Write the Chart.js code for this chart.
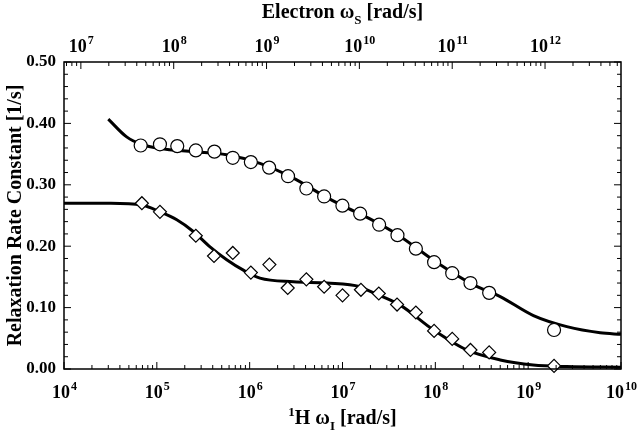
<!DOCTYPE html>
<head>
  <meta charset="UTF-8">
  <title>Relaxation Rate Constant</title>
  <script src="https://cdn.jsdelivr.net/npm/chart.js"></script>
  <style>
    body { margin: 0; background: #fff; }
  </style>
</head>
<body>
    <canvas id="relaxChart" width="640" height="438"></canvas>
    <script>
        // measured points (1H frequency in rad/s)
        var circleW = [6.7e4, 1.08e5, 1.66e5, 2.63e5, 4.17e5, 6.58e5, 1.03e6, 1.62e6, 2.59e6, 4.08e6, 6.34e6,
                       9.98e6, 1.55e7, 2.48e7, 3.91e7, 6.17e7, 9.7e7, 1.52e8, 2.39e8, 3.8e8, 1.9e9];
        var circleR = [0.364, 0.366, 0.363, 0.356, 0.354, 0.344, 0.337, 0.328, 0.314, 0.294, 0.281,
                       0.266, 0.253, 0.235, 0.218, 0.196, 0.174, 0.156, 0.140, 0.124, 0.0635];
        var diamondW = [6.9e4, 1.08e5, 2.63e5, 4.13e5, 6.58e5, 1.03e6, 1.63e6, 2.57e6, 4.08e6, 6.34e6,
                        1e7, 1.58e7, 2.46e7, 3.87e7, 6.17e7, 9.7e7, 1.52e8, 2.39e8, 3.8e8, 1.9e9];
        var diamondR = [0.270, 0.256, 0.217, 0.184, 0.189, 0.157, 0.170, 0.132, 0.146, 0.134,
                        0.120, 0.129, 0.123, 0.105, 0.092, 0.062, 0.049, 0.031, 0.027, 0.005];
        // fitted curves
        var fitUpperW = [3.0e4, 4.73e4, 6.8e4, 1.08e5, 2.47e5, 5.66e5, 1.29e6, 2.96e6, 6.3e6, 1e7,
                         2e7, 4e7, 1e8, 2.5e8, 5e8, 1.14e9, 2.61e9, 5.97e9, 1e10];
        var fitUpperR = [0.407, 0.378, 0.366, 0.359, 0.354, 0.349, 0.335, 0.311, 0.282, 0.266,
                         0.244, 0.218, 0.175, 0.138, 0.118, 0.087, 0.069, 0.059, 0.0565];
        var fitLowerW = [1e4, 3.2e4, 6.9e4, 1.08e5, 1.64e5, 2.47e5, 3.74e5, 5.66e5, 8.55e5, 1.29e6, 2.96e6,
                         6.8e6, 1.55e7, 1.83e7, 2.5e7, 4.18e7, 9.55e7, 2.18e8, 5e8, 1.13e9, 2.61e9, 1e10];
        var fitLowerR = [0.270, 0.270, 0.267, 0.256, 0.243, 0.224, 0.199, 0.178, 0.161, 0.148, 0.142,
                         0.140, 0.134, 0.129, 0.120, 0.104, 0.0635, 0.031, 0.0147, 0.0065, 0.004, 0.003];

        var bottomExps = [4, 5, 6, 7, 8, 9, 10];
        var topExps = [7, 8, 9, 10, 11, 12];
        var yTicks = [0, 0.1, 0.2, 0.3, 0.4, 0.5];
        var gammaRatio = 658; // omega_S / omega_I

        function pts(xs, ys) {
            return xs.map(function(x, i) { return {x: x, y: ys[i]}; });
        }

        var FONT = '"Liberation Serif", "Times New Roman", serif';

        // draws "10" with superscript exponent centred at (x, y baseline)
        function drawPower(ctx, exp, x, y) {
            ctx.font = 'bold 18px ' + FONT;
            var bw = ctx.measureText('10').width;
            ctx.font = 'bold 12px ' + FONT;
            var ew = ctx.measureText(String(exp)).width;
            var left = x - (bw + ew) / 2;
            ctx.textAlign = 'left';
            ctx.font = 'bold 18px ' + FONT;
            ctx.fillText('10', left, y);
            ctx.font = 'bold 12px ' + FONT;
            ctx.fillText(String(exp), left + bw + 1, y - 8);
        }

        // draws a run of [text, size, dy] pieces centred at x
        function drawRich(ctx, parts, x, y) {
            var total = 0;
            parts.forEach(function(p) {
                ctx.font = 'bold ' + p[1] + 'px ' + FONT;
                total += ctx.measureText(p[0]).width;
            });
            var cx = x - total / 2;
            ctx.textAlign = 'left';
            parts.forEach(function(p) {
                ctx.font = 'bold ' + p[1] + 'px ' + FONT;
                ctx.fillText(p[0], cx, y + p[2]);
                cx += ctx.measureText(p[0]).width;
            });
        }

        var framePlugin = {
            id: 'frame',
            afterDraw: function(chart) {
                var ctx = chart.ctx, a = chart.chartArea;
                var sx = chart.scales.x, sx2 = chart.scales.x2, sy = chart.scales.y;
                ctx.save();
                ctx.strokeStyle = '#000';
                ctx.fillStyle = '#000';
                ctx.lineWidth = 1.5;
                ctx.strokeRect(a.left, a.top, a.right - a.left, a.bottom - a.top);
                ctx.lineWidth = 1;
                ctx.beginPath();
                // log ticks bottom
                for (var e = 4; e <= 10; e++) {
                    for (var m = 1; m <= 9; m++) {
                        var v = m * Math.pow(10, e);
                        if (v > 1e10) break;
                        var px = sx.getPixelForValue(v);
                        var len = m === 1 ? 7 : 4;
                        ctx.moveTo(px, a.bottom); ctx.lineTo(px, a.bottom - len);
                    }
                }
                // log ticks top (electron frequency)
                for (var e2 = 6; e2 <= 12; e2++) {
                    for (var m2 = 1; m2 <= 9; m2++) {
                        var v2 = m2 * Math.pow(10, e2);
                        if (v2 < sx2.min || v2 > sx2.max) continue;
                        var px2 = sx2.getPixelForValue(v2);
                        var len2 = m2 === 1 ? 7 : 4;
                        ctx.moveTo(px2, a.top); ctx.lineTo(px2, a.top + len2);
                    }
                }
                // y ticks left and right
                for (var k = 0; k <= 25; k++) {
                    var py = sy.getPixelForValue(k * 0.02);
                    var ylen = k % 5 === 0 ? 7 : 4;
                    ctx.moveTo(a.left, py); ctx.lineTo(a.left + ylen, py);
                    ctx.moveTo(a.right, py); ctx.lineTo(a.right - ylen, py);
                }
                ctx.stroke();

                // tick labels
                ctx.textBaseline = 'alphabetic';
                bottomExps.forEach(function(e) {
                    drawPower(ctx, e, sx.getPixelForValue(Math.pow(10, e)), 398);
                });
                topExps.forEach(function(e) {
                    drawPower(ctx, e, sx2.getPixelForValue(Math.pow(10, e)), 52);
                });
                ctx.font = 'bold 17px ' + FONT;
                ctx.textAlign = 'right';
                ctx.textBaseline = 'middle';
                yTicks.forEach(function(t) {
                    ctx.fillText(t.toFixed(2), a.left - 8, sy.getPixelForValue(t));
                });

                // axis titles
                ctx.textBaseline = 'alphabetic';
                var cx = (a.left + a.right) / 2;
                drawRich(ctx, [['Electron \u03c9', 20, 0], ['S', 13, 6], [' [rad/s]', 20, 0]], cx, 18);
                drawRich(ctx, [['1', 13, -8], ['H \u03c9', 20, 0], ['I', 13, 6], [' [rad/s]', 20, 0]], cx, 424);

                ctx.translate(21, (a.top + a.bottom) / 2);
                ctx.rotate(-Math.PI / 2);
                ctx.font = 'bold 20px ' + FONT;
                ctx.textAlign = 'center';
                ctx.fillText('Relaxation Rate Constant [1/s]', 0, 0);
                ctx.restore();
            }
        };

        var ctx = document.getElementById('relaxChart').getContext('2d');
        new Chart(ctx, {
            type: 'scatter',
            data: {
                datasets: [{
                    label: 'fit upper',
                    data: pts(fitUpperW, fitUpperR),
                    showLine: true,
                    borderColor: '#000',
                    borderWidth: 3,
                    pointRadius: 0,
                    cubicInterpolationMode: 'monotone',
                    order: 2
                }, {
                    label: 'fit lower',
                    data: pts(fitLowerW, fitLowerR),
                    showLine: true,
                    borderColor: '#000',
                    borderWidth: 3,
                    pointRadius: 0,
                    cubicInterpolationMode: 'monotone',
                    order: 2
                }, {
                    label: 'circles',
                    data: pts(circleW, circleR),
                    pointStyle: 'circle',
                    pointRadius: 6.5,
                    backgroundColor: '#fff',
                    borderColor: '#000',
                    borderWidth: 1.2,
                    order: 1
                }, {
                    label: 'diamonds',
                    data: pts(diamondW, diamondR),
                    pointStyle: 'rectRot',
                    pointRadius: 6.5,
                    backgroundColor: '#fff',
                    borderColor: '#000',
                    borderWidth: 1.2,
                    order: 1
                }]
            },
            options: {
                responsive: false,
                animation: false,
                clip: false,
                layout: { padding: { left: 64, right: 19, top: 62, bottom: 69 } },
                scales: {
                    x: { type: 'logarithmic', min: 1e4, max: 1e10, display: false },
                    x2: { type: 'logarithmic', position: 'top', min: 1e4 * gammaRatio, max: 1e10 * gammaRatio, display: false },
                    y: { min: 0, max: 0.5, display: false }
                },
                plugins: {
                    legend: { display: false },
                    tooltip: { enabled: false }
                }
            },
            plugins: [framePlugin]
        });
    </script>
</body>
</html>
